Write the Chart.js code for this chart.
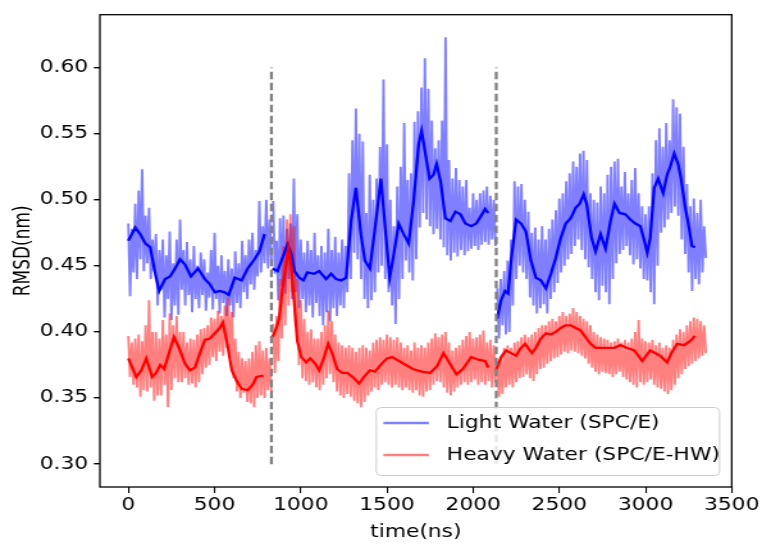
<!DOCTYPE html>
<html>
<head>
<meta charset="utf-8">
<script src="https://cdn.jsdelivr.net/npm/chart.js@4.4.1/dist/chart.umd.min.js"></script>
<style>
  html, body { margin: 0; padding: 0; background: #fff; }
  #wrap { width: 762px; height: 544px; }
</style>
</head>
<body>
<!-- the figure is stretched horizontally (about 1.28x), so it is drawn narrower and scaled by CSS -->
<div id="wrap"><canvas id="rmsdChart" width="595" height="544" style="width:762px;height:544px"></canvas></div>
<script>
// tick labels
const xTicks = [0, 500, 1000, 1500, 2000, 2500, 3000, 3500];
const yTicks = [0.30, 0.35, 0.40, 0.45, 0.50, 0.55, 0.60];

// simulation restarts (dashed lines)
const restartTimes = [830, 2134];

// raw RMSD trace, read as upper / lower envelope every 20 ns from each segment start
const rawStep = 20;
const segStarts = [0, 840, 2140];

const lightHi1 = [.482, .478, .497, .507, .523, .488, .494, .470, .474, .462, .470, .458, .476, .452, .470, .485, .462, .468, .455, .465, .450,
    .460, .455, .445, .462, .475, .450, .458, .446, .455, .448, .461, .452, .469, .458, .470, .475, .462, .499, .480, .500, .485];
const lightLo1 = [.427, .445, .440, .455, .446, .452, .440, .446, .420, .432, .411, .425, .409, .420, .413, .432, .420, .428, .415, .425, .418,
    .428, .416, .426, .417, .425, .414, .422, .412, .420, .411, .422, .418, .430, .425, .436, .432, .442, .445, .452, .448, .455];
const lightHi2 = [.499, .469, .486, .488, .478, .482, .516, .489, .470, .460, .469, .462, .475, .458, .465, .460, .478, .462, .472, .460, .470,
    .465, .520, .545, .569, .550, .544, .490, .519, .500, .516, .540, .591, .542, .500, .480, .510, .525, .558, .515, .520, .559, .567, .585,
    .607, .584, .560, .539, .545, .560, .623, .530, .516, .524, .515, .510, .515, .494, .505, .500, .505, .507, .510, .503, .500];
const lightLo2 = [.444, .424, .435, .429, .440, .425, .430, .418, .425, .415, .420, .411, .422, .412, .405, .415, .408, .418, .412, .420, .418,
    .430, .440, .460, .455, .440, .425, .418, .424, .430, .445, .450, .440, .430, .420, .406, .425, .440, .454, .445, .439, .455, .479, .490,
    .485, .480, .474, .478, .470, .464, .458, .454, .460, .457, .462, .458, .461, .463, .465, .462, .466, .468, .466, .470, .465];
const lightHi3 = [.433, .440, .446, .454, .470, .514, .510, .512, .500, .491, .475, .479, .470, .480, .470, .478, .485, .492, .501, .505, .514,
    .520, .529, .525, .535, .537, .530, .505, .500, .498, .510, .505, .519, .525, .529, .531, .510, .521, .505, .515, .524, .505, .495, .489,
    .495, .520, .545, .554, .540, .558, .545, .576, .570, .565, .540, .512, .495, .501, .490, .500, .480];
const lightLo3 = [.395, .405, .398, .400, .420, .440, .450, .445, .440, .426, .420, .414, .418, .421, .414, .425, .430, .437, .445, .450, .455,
    .459, .465, .470, .462, .455, .449, .440, .430, .424, .435, .430, .421, .440, .452, .459, .462, .465, .458, .451, .455, .448, .440, .439,
    .430, .421, .450, .475, .479, .485, .490, .495, .488, .470, .459, .445, .431, .440, .436, .445, .456];

const heavyHi1 = [.397, .392, .395, .398, .393, .405, .424, .400, .400, .395, .409, .398, .414, .405, .412, .400, .400, .392, .395, .394, .398,
    .402, .403, .405, .411, .410, .416, .412, .420, .426, .415, .395, .385, .380, .378, .380, .385, .390, .393, .386, .388, .380];
const heavyLo1 = [.366, .360, .358, .351, .356, .355, .358, .348, .352, .352, .360, .343, .356, .365, .362, .362, .365, .360, .361, .358, .362,
    .368, .373, .375, .381, .378, .385, .382, .388, .380, .365, .355, .350, .354, .347, .346, .343, .350, .352, .350, .356, .355];
const heavyHi2 = [.406, .412, .440, .465, .485, .489, .480, .440, .424, .410, .400, .402, .395, .395, .400, .405, .416, .408, .398, .392, .390,
    .388, .390, .388, .385, .388, .390, .388, .386, .392, .394, .396, .394, .398, .396, .394, .396, .392, .388, .390, .386, .392, .388, .390,
    .388, .392, .395, .399, .396, .398, .400, .392, .386, .388, .390, .394, .397, .400, .395, .396, .398, .401, .392, .394, .390];
const heavyLo2 = [.369, .378, .395, .405, .420, .430, .405, .375, .365, .363, .360, .362, .358, .356, .360, .365, .368, .362, .355, .352, .350,
    .353, .351, .348, .346, .343, .347, .352, .355, .358, .356, .360, .362, .360, .358, .360, .358, .356, .358, .356, .354, .356, .352, .351,
    .355, .356, .360, .363, .362, .358, .354, .352, .355, .358, .360, .362, .360, .362, .364, .360, .362, .360, .363, .358, .362];
const heavyHi3 = [.378, .380, .388, .390, .388, .392, .393, .396, .398, .396, .398, .400, .403, .405, .405, .408, .410, .408, .412, .415, .412,
    .414, .418, .415, .412, .410, .408, .405, .400, .398, .396, .395, .394, .392, .393, .395, .392, .394, .392, .395, .400, .409, .395, .393,
    .392, .394, .390, .392, .388, .390, .388, .394, .398, .402, .400, .405, .408, .411, .410, .408, .405];
const heavyLo3 = [.351, .353, .358, .360, .358, .362, .365, .366, .368, .365, .363, .368, .372, .373, .376, .378, .380, .381, .383, .385, .384,
    .386, .385, .384, .382, .380, .376, .373, .370, .368, .370, .369, .368, .366, .368, .370, .366, .364, .362, .360, .358, .362, .360, .362,
    .364, .360, .358, .357, .355, .353, .356, .360, .365, .368, .372, .374, .376, .378, .380, .382, .384];

// running averages
const lightAvgT1 = [0, 40, 69, 98, 127, 156, 179, 213, 242, 271, 300, 329, 363, 404, 444, 473, 502, 530, 559, 582, 617, 657, 692, 732, 761, 790];
const lightAvg1 = [.469, .479, .474, .467, .464, .444, .431, .440, .442, .448, .455, .451, .442, .448, .440, .436, .430, .431, .430, .428, .441,
    .439, .448, .455, .461, .474];
const lightAvgT2 = [836, 865, 894, 923, 946, 963, 992, 1015, 1038, 1078, 1107, 1147, 1176, 1205, 1234, 1263, 1292, 1320, 1349, 1372, 1401,
    1436, 1465, 1493, 1516, 1540, 1568, 1597, 1626, 1655, 1684, 1701, 1724, 1747, 1770, 1788, 1811, 1839, 1868, 1897, 1926, 1955, 1989,
    2018, 2047, 2070, 2087];
const lightAvg2 = [.448, .446, .456, .466, .459, .446, .441, .439, .445, .444, .446, .440, .444, .440, .439, .441, .484, .509, .474, .454, .448,
    .484, .516, .474, .441, .459, .482, .474, .467, .499, .542, .552, .534, .516, .519, .527, .514, .486, .484, .491, .489, .482, .480,
    .482, .488, .493, .490];
const lightAvgT3 = [2139, 2162, 2185, 2203, 2220, 2249, 2278, 2306, 2335, 2364, 2393, 2422, 2451, 2479, 2508, 2537, 2566, 2595, 2618, 2641,
    2658, 2687, 2710, 2739, 2768, 2797, 2820, 2849, 2883, 2912, 2941, 2970, 2993, 3010, 3027, 3050, 3073, 3102, 3125, 3143, 3166, 3189,
    3206, 3229, 3252, 3269, 3287];
const lightAvg3 = [.410, .424, .431, .429, .454, .485, .482, .476, .454, .441, .439, .433, .444, .456, .471, .482, .486, .494, .497, .504,
    .497, .471, .461, .474, .463, .484, .497, .490, .489, .485, .482, .480, .469, .460, .471, .509, .516, .505, .519, .525, .535, .527,
    .516, .495, .479, .465, .464];

const heavyAvgT1 = [0, 23, 46, 75, 104, 138, 161, 185, 208, 236, 265, 294, 329, 358, 386, 415, 444, 473, 502, 530, 548, 571, 600, 628, 657,
    692, 720, 744, 784];
const heavyAvg1 = [.380, .373, .366, .371, .380, .366, .369, .375, .372, .384, .396, .388, .376, .371, .373, .384, .394, .395, .399, .403, .407,
    .393, .371, .363, .357, .356, .360, .366, .367];
const heavyAvgT2 = [836, 859, 876, 894, 917, 928, 946, 963, 980, 1003, 1032, 1055, 1084, 1107, 1136, 1159, 1182, 1211, 1240, 1270, 1300,
    1338, 1367, 1401, 1430, 1470, 1500, 1530, 1570, 1610, 1650, 1700, 1750, 1790, 1828, 1860, 1903, 1940, 1989, 2030, 2070, 2087];
const heavyAvg2 = [.396, .403, .411, .433, .452, .463, .449, .421, .393, .381, .377, .380, .376, .371, .381, .391, .384, .372, .369, .369, .366,
    .361, .366, .371, .370, .376, .380, .381, .378, .375, .372, .370, .369, .374, .384, .377, .368, .372, .381, .379, .378, .373];
const heavyAvgT3 = [2133, 2162, 2191, 2220, 2249, 2272, 2301, 2318, 2341, 2364, 2393, 2422, 2451, 2479, 2508, 2537, 2566, 2595, 2624, 2652,
    2681, 2710, 2739, 2779, 2820, 2854, 2890, 2935, 2981, 3027, 3085, 3125, 3150, 3183, 3223, 3258, 3287];
const heavyAvg3 = [.371, .381, .386, .384, .382, .387, .391, .388, .384, .388, .395, .399, .398, .400, .403, .405, .405, .403, .401, .396,
    .391, .388, .388, .388, .388, .390, .388, .386, .378, .386, .382, .377, .384, .391, .390, .393, .397];

const LIGHT = 'rgba(0, 0, 255, 0.5)';
const HEAVY = 'rgba(255, 0, 0, 0.5)';
const FONT = "'DejaVu Sans', sans-serif";

// une los segmentos con un hueco (null) entre cada uno
function joinSegments(segs) {
    const out = [];
    segs.forEach((seg, k) => {
        if (k > 0) out.push({ x: seg[0].x - 1, y: null });
        out.push(...seg);
    });
    return out;
}

// zigzag between the upper and lower envelope readings
function rawSeries(his, los) {
    return joinSegments(his.map((hi, k) => {
        const pts = [];
        hi.forEach((v, i) => {
            const t = segStarts[k] + i * rawStep;
            pts.push({ x: t, y: v }, { x: t + rawStep / 2, y: los[k][i] });
        });
        return pts;
    }));
}

function avgSeries(times, vals) {
    return joinSegments(times.map((ts, k) => ts.map((t, i) => ({ x: t, y: vals[k][i] }))));
}

const restartData = [];
restartTimes.forEach((t, k) => {
    if (k > 0) restartData.push({ x: t - 1, y: null });
    restartData.push({ x: t, y: yTicks[0] }, { x: t, y: yTicks[yTicks.length - 1] });
});

const frameAndLegend = {
    id: 'frameAndLegend',
    afterDraw(chart) {
        const { ctx, chartArea: a } = chart;
        ctx.save();
        ctx.strokeStyle = '#000';
        ctx.lineWidth = 1.3;
        ctx.strokeRect(a.left, a.top, a.right - a.left, a.bottom - a.top);

        const bw = 268, bh = 68;
        const bx = a.right - 9.5 - bw, by = a.bottom - 12 - bh;
        ctx.beginPath();
        ctx.roundRect(bx, by + 0.5, bw, bh, 4);
        ctx.fillStyle = 'rgba(255,255,255,0.8)';
        ctx.fill();
        ctx.strokeStyle = '#cccccc';
        ctx.lineWidth = 1;
        ctx.stroke();

        const items = [['Light Water (SPC/E)', LIGHT], ['Heavy Water (SPC/E-HW)', HEAVY]];
        ctx.font = '17px ' + FONT;
        ctx.textBaseline = 'middle';
        items.forEach(([label, color], i) => {
            const y = by + 16 + i * 32;
            ctx.strokeStyle = color;
            ctx.lineWidth = 2.4;
            ctx.beginPath();
            ctx.moveTo(bx + 5.5, y);
            ctx.lineTo(bx + 41, y);
            ctx.stroke();
            ctx.fillStyle = '#000';
            ctx.fillText(label, bx + 55, y + 1);
        });
        ctx.restore();
    }
};

const lineDefaults = { pointRadius: 0, fill: false, spanGaps: false, tension: 0 };

new Chart(document.getElementById('rmsdChart'), {
    type: 'line',
    data: {
        datasets: [
            { ...lineDefaults, label: 'restart', data: restartData, borderColor: '#808080', borderWidth: 2.3, borderDash: [7.5, 3.5], order: 0 },
            { ...lineDefaults, label: 'Heavy avg', data: avgSeries([heavyAvgT1, heavyAvgT2, heavyAvgT3], [heavyAvg1, heavyAvg2, heavyAvg3]), borderColor: '#ff0000', borderWidth: 2.3, order: 1 },
            { ...lineDefaults, label: 'Light avg', data: avgSeries([lightAvgT1, lightAvgT2, lightAvgT3], [lightAvg1, lightAvg2, lightAvg3]), borderColor: '#0000ff', borderWidth: 2.3, order: 2 },
            { ...lineDefaults, label: 'Heavy Water (SPC/E-HW)', data: rawSeries([heavyHi1, heavyHi2, heavyHi3], [heavyLo1, heavyLo2, heavyLo3]), borderColor: HEAVY, borderWidth: 1.9, order: 3 },
            { ...lineDefaults, label: 'Light Water (SPC/E)', data: rawSeries([lightHi1, lightHi2, lightHi3], [lightLo1, lightLo2, lightLo3]), borderColor: LIGHT, borderWidth: 1.9, order: 4 }
        ]
    },
    options: {
        responsive: false,
        animation: false,
        events: [],
        devicePixelRatio: 1,
        layout: { padding: { top: 13, right: 21, left: 0, bottom: 0 } },
        plugins: { legend: { display: false }, tooltip: { enabled: false } },
        scales: {
            x: {
                type: 'linear', min: -165, max: 3500,
                afterBuildTicks: s => { s.ticks = xTicks.map(v => ({ value: v })); },
                afterFit: s => { s.height = 57; },
                ticks: { font: { family: FONT, size: 17 }, color: '#000', padding: 2, maxRotation: 0, callback: v => String(v) },
                grid: { drawOnChartArea: false, drawTicks: true, tickLength: 6, color: '#000', lineWidth: 1.1 },
                border: { display: false },
                title: { display: true, text: 'time(ns)', font: { family: FONT, size: 17 }, color: '#000', padding: { top: 0, bottom: 1 } }
            },
            y: {
                type: 'linear', min: 0.2827, max: 0.640,
                afterBuildTicks: s => { s.ticks = yTicks.map(v => ({ value: v })); },
                afterFit: s => { s.width = 78; },
                ticks: { font: { family: FONT, size: 17 }, color: '#000', padding: 4.5, callback: v => v.toFixed(2) },
                grid: { drawOnChartArea: false, drawTicks: true, tickLength: 4.7, color: '#000', lineWidth: 1.4 },
                border: { display: false },
                title: { display: true, text: 'RMSD(nm)', font: { family: FONT, size: 17 }, color: '#000', padding: { top: 8, bottom: 0 } }
            }
        }
    },
    plugins: [frameAndLegend]
});
</script>
</body>
</html>
